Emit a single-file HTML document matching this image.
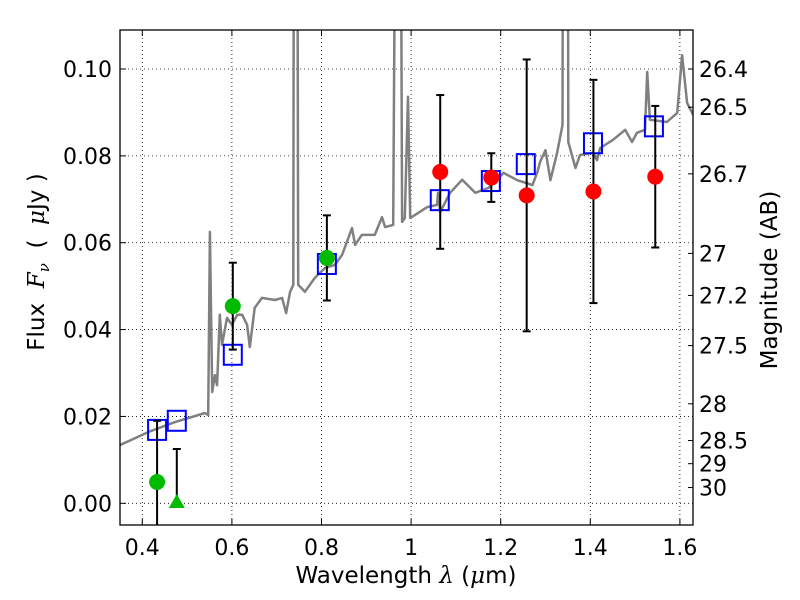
<!DOCTYPE html>
<html><head><meta charset="utf-8"><style>
html,body{margin:0;padding:0;background:#fff;}
svg{display:block;font-family:"DejaVu Sans","Liberation Sans",sans-serif;}
</style></head><body>
<svg id="chart" width="800" height="600" viewBox="0 0 800 600" xmlns="http://www.w3.org/2000/svg">
<rect x="0" y="0" width="800" height="600" fill="#fff"/>
<defs><clipPath id="clip"><rect x="120" y="30" width="573" height="495"/></clipPath></defs>
<g id="grid"></g>
<g id="plot" clip-path="url(#clip)"></g>
<g id="axes"></g>
<text x="406" y="583" font-size="23" text-anchor="middle">Wavelength  <tspan font-family="DejaVu Serif,serif" font-style="italic">λ</tspan> (<tspan font-family="DejaVu Serif,serif" font-style="italic">μ</tspan>m)</text>
<text transform="translate(44,262) rotate(-90)" font-size="23" text-anchor="middle" xml:space="preserve">Flux  <tspan font-family="DejaVu Serif,serif" font-style="italic">F<tspan font-size="15" dy="5">ν</tspan></tspan><tspan dy="-5">  (  </tspan><tspan font-family="DejaVu Serif,serif" font-style="italic">μ</tspan>Jy )</text>
<text transform="translate(777,280) rotate(-90)" font-size="23" text-anchor="middle">Magnitude (AB)</text>
</svg>
<script>
const xTicks = [0.4, 0.6, 0.8, 1.0, 1.2, 1.4, 1.6];
const xTickLabels = ["0.4", "0.6", "0.8", "1", "1.2", "1.4", "1.6"];
const yTicks = [0.0, 0.02, 0.04, 0.06, 0.08, 0.10];
const yTickLabels = ["0.00", "0.02", "0.04", "0.06", "0.08", "0.10"];
const magTicks = [26.4, 26.5, 26.7, 27, 27.2, 27.5, 28, 28.5, 29, 30];
const magTickLabels = ["26.4", "26.5", "26.7", "27", "27.2", "27.5", "28", "28.5", "29", "30"];

const specLam = [0.350,0.413,0.473,0.540,0.547,0.551,0.556,0.562,0.567,0.573,0.578,0.589,0.600,0.612,0.623,0.634,0.640,0.651,0.667,0.696,0.712,0.721,0.730,0.737,0.739,0.745,0.748,0.763,0.785,0.808,0.830,0.846,0.868,0.875,0.890,0.919,0.935,0.942,0.960,0.968,0.975,0.980,0.986,0.993,0.998,1.009,1.036,1.058,1.060,1.065,1.087,1.114,1.143,1.172,1.188,1.206,1.237,1.271,1.282,1.288,1.300,1.311,1.326,1.338,1.340,1.349,1.351,1.367,1.377,1.406,1.415,1.422,1.451,1.478,1.493,1.504,1.522,1.527,1.533,1.571,1.594,1.605,1.616,1.630];
const specFlux = [0.0134,0.0164,0.0187,0.0208,0.0203,0.0625,0.0256,0.0295,0.0272,0.0434,0.0365,0.0427,0.0411,0.0434,0.0434,0.0411,0.0360,0.0450,0.0473,0.0468,0.0473,0.0438,0.0487,0.0503,0.2,0.2,0.0503,0.0487,0.0519,0.0542,0.0549,0.0572,0.0634,0.0595,0.0618,0.0618,0.0659,0.0636,0.0641,0.2,0.2,0.0648,0.0657,0.0936,0.0657,0.0664,0.0682,0.0687,0.0715,0.0671,0.0715,0.0745,0.0715,0.0726,0.0740,0.0761,0.0744,0.0733,0.0763,0.0786,0.0813,0.0744,0.0807,0.0871,0.2,0.2,0.0832,0.0772,0.0802,0.0807,0.0790,0.0818,0.0837,0.0860,0.0832,0.0853,0.0860,0.0993,0.0883,0.0878,0.0899,0.1032,0.0922,0.0894];

const modelLam = [0.433,0.477,0.602,0.812,1.064,1.178,1.256,1.406,1.542];
const modelFlux = [0.0169,0.0190,0.0342,0.0551,0.0698,0.0742,0.0781,0.0829,0.0868];

const greenLam = [0.433,0.602,0.812];
const greenFlux = [0.0049,0.0454,0.0565];
const greenErr = [0.0141,0.0100,0.0098];

const limitLam = [0.477];
const limitFlux = [0.0003];
const limitUpper = [0.0125];

const redLam = [1.065,1.179,1.258,1.407,1.545];
const redFlux = [0.0763,0.0750,0.0709,0.0718,0.0752];
const redErr = [0.0177,0.0056,0.0313,0.0257,0.0163];

const X0 = 120, X1 = 693, Y0 = 30, Y1 = 525;
function xs(l){ return 142.3 + (l - 0.4) * 448; }
function ys(f){ return 503.3 - f * 4343; }
function magToFlux(m){ return Math.pow(10, (23.9 - m) / 2.5); }

const NS = "http://www.w3.org/2000/svg";
function mk(tag, attrs, parent){
  const e = document.createElementNS(NS, tag);
  for (const k in attrs) e.setAttribute(k, attrs[k]);
  parent.appendChild(e);
  return e;
}
const grid = document.getElementById('grid');
const plot = document.getElementById('plot');
const axes = document.getElementById('axes');

xTicks.forEach((t, i) => {
  const x = xs(t);
  const g = mk('line', {x1:x, x2:x, y1:Y0, y2:Y1, stroke:'#000', 'stroke-width':0.8, 'stroke-dasharray':'1,3'}, grid);
  
  
  const t1 = mk('line', {x1:x, x2:x, y1:Y1, y2:Y1-6, stroke:'#000', 'stroke-width':1}, axes);
  
  
  mk('line', {x1:x, x2:x, y1:Y0, y2:Y0+6, stroke:'#000', 'stroke-width':1}, axes);
  const lb = mk('text', {x:x, y:555, 'font-size':22, 'text-anchor':'middle'}, axes);
  lb.textContent = xTickLabels[i];
  
  
});
yTicks.forEach((t, i) => {
  const y = ys(t);
  const g = mk('line', {x1:X0, x2:X1, y1:y, y2:y, stroke:'#000', 'stroke-width':0.8, 'stroke-dasharray':'1,3'}, grid);
  
  
  const t1 = mk('line', {x1:X0, x2:X0+6, y1:y, y2:y, stroke:'#000', 'stroke-width':1}, axes);
  
  
  const lb = mk('text', {x:112, y:y+8, 'font-size':22, 'text-anchor':'end'}, axes);
  lb.textContent = yTickLabels[i];
  
  
});
magTicks.forEach((m, i) => {
  const y = ys(magToFlux(m));
  const t1 = mk('line', {x1:X1-5, x2:X1, y1:y, y2:y, stroke:'#000', 'stroke-width':1}, axes);
  
  
  const lb = mk('text', {x:699, y:y+8, 'font-size':22}, axes);
  lb.textContent = magTickLabels[i];
  
  
});

// spectrum
let d = '';
specLam.forEach((l, i) => { d += (i ? 'L' : 'M') + xs(l).toFixed(1) + ' ' + ys(specFlux[i]).toFixed(1) + ' '; });
const sp = mk('path', {d:d, fill:'none', stroke:'#808080', 'stroke-width':2.5, 'stroke-linejoin':'round'}, plot);



function errbar(x, ylo, yhi){
  const g = mk('g', {stroke:'#000', 'stroke-width':2}, plot);
  
  
  mk('line', {x1:x, x2:x, y1:ylo, y2:yhi}, g);
  mk('line', {x1:x-4, x2:x+4, y1:ylo, y2:ylo}, g);
  mk('line', {x1:x-4, x2:x+4, y1:yhi, y2:yhi}, g);
}

modelLam.forEach((l, i) => {
  const x = xs(l), y = ys(modelFlux[i]);
  const r = mk('rect', {x:x-9, y:y-10, width:18, height:20, fill:'none', stroke:'#0000ff', 'stroke-width':2}, plot);
  
  
});
greenLam.forEach((l, i) => {
  const x = xs(l);
  errbar(x, ys(greenFlux[i] - greenErr[i]), ys(greenFlux[i] + greenErr[i]));
  const c = mk('circle', {cx:x, cy:ys(greenFlux[i]), r:8, fill:'#00bb00'}, plot);
  
  
});
limitLam.forEach((l, i) => {
  const x = xs(l), y = ys(limitFlux[i]);
  errbar(x, ys(0), ys(limitUpper[i]));
  const p = mk('polygon', {points:`${x},${y-8} ${x-8},${y+6} ${x+8},${y+6}`, fill:'#00bb00'}, plot);
  
  
});
redLam.forEach((l, i) => {
  const x = xs(l);
  errbar(x, ys(redFlux[i] - redErr[i]), ys(redFlux[i] + redErr[i]));
  const c = mk('circle', {cx:x, cy:ys(redFlux[i]), r:8, fill:'#ff0000'}, plot);
  
  
});

const fr = mk('rect', {x:X0, y:Y0, width:X1-X0, height:Y1-Y0, fill:'none', stroke:'#000', 'stroke-width':1.3}, axes);


</script>
</body></html>
